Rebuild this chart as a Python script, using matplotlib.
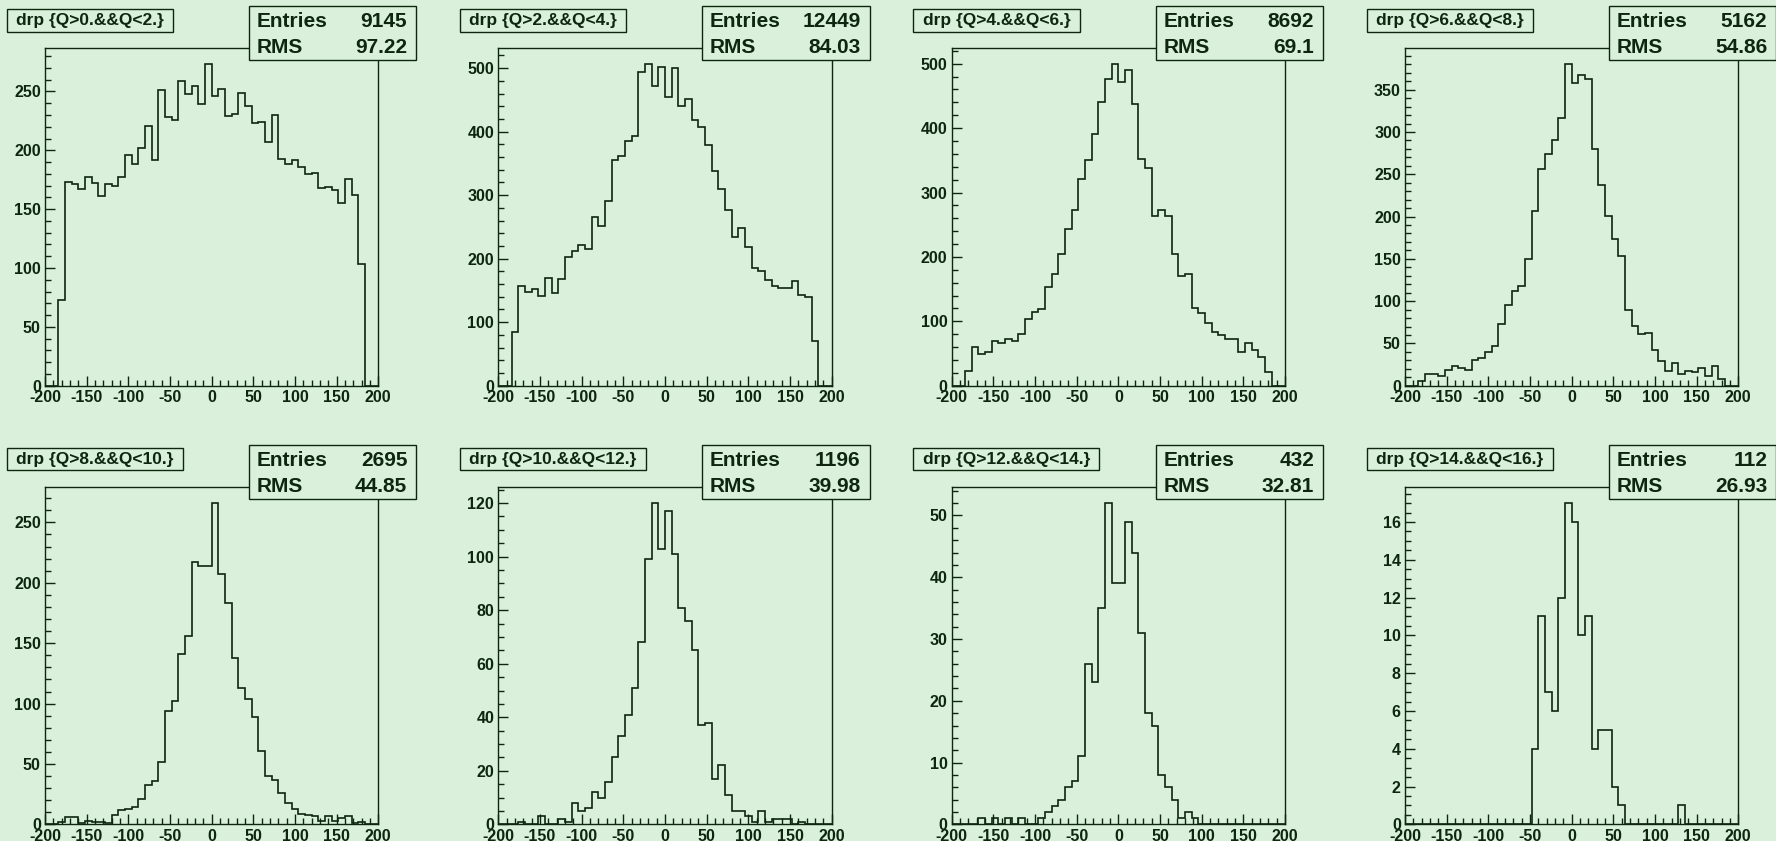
import numpy as np
import matplotlib
matplotlib.use("Agg")
import matplotlib.pyplot as plt
from matplotlib.patches import Rectangle
from matplotlib.ticker import MultipleLocator

plt.rcParams['font.family'] = ['Liberation Sans', 'DejaVu Sans']
plt.rcParams['font.weight'] = 'bold'
plt.rcParams['axes.unicode_minus'] = False

# ---------------- data ----------------
bin_edges = np.arange(-200, 201, 8)   # 50 bins of width 8

titles = ["drp {Q>0.&&Q<2.}", "drp {Q>2.&&Q<4.}", "drp {Q>4.&&Q<6.}", "drp {Q>6.&&Q<8.}",
          "drp {Q>8.&&Q<10.}", "drp {Q>10.&&Q<12.}", "drp {Q>12.&&Q<14.}", "drp {Q>14.&&Q<16.}"]
entries = ["9145", "12449", "8692", "5162", "2695", "1196", "432", "112"]
rms_values = ["97.22", "84.03", "69.1", "54.86", "44.85", "39.98", "32.81", "26.93"]

counts_q0_2 = [0, 0, 73, 173, 171, 167, 177, 172, 161, 171, 170, 177,
               196, 188, 202, 221, 192, 251, 228, 226, 259, 248,
               255, 239, 273, 246, 252, 229, 231, 249, 238, 223,
               224, 207, 230, 193, 188, 192, 186, 180, 181, 168,
               169, 166, 155, 176, 162, 103, 0, 0]
counts_q2_4 = [0, 0, 84, 157, 148, 152, 141, 170, 146, 168, 202, 212,
               221, 216, 266, 252, 291, 355, 361, 386, 393, 494,
               506, 472, 502, 455, 500, 440, 452, 419, 408, 379,
               338, 309, 277, 234, 249, 218, 185, 181, 167, 157,
               154, 154, 165, 143, 140, 70, 0, 0]
counts_q4_6 = [0, 0, 23, 60, 49, 53, 69, 67, 72, 69, 80, 103,
               115, 119, 153, 173, 204, 243, 273, 321, 351, 391,
               441, 476, 499, 472, 490, 438, 352, 338, 264, 273,
               264, 204, 171, 173, 120, 113, 97, 83, 78, 73,
               73, 53, 67, 55, 44, 22, 0, 0]
counts_q6_8 = [0, 0, 5, 14, 14, 11, 19, 23, 21, 18, 30, 33,
               40, 47, 73, 96, 112, 118, 150, 207, 256, 274,
               291, 317, 380, 358, 367, 363, 280, 237, 201, 174,
               153, 90, 71, 61, 62, 42, 29, 17, 27, 14,
               17, 16, 21, 12, 23, 8, 0, 0]
counts_q8_10 = [0, 0, 2, 6, 6, 1, 3, 2, 2, 1, 8, 12,
                13, 14, 21, 33, 36, 52, 94, 102, 141, 156,
                217, 214, 214, 266, 207, 183, 138, 113, 104, 89,
                61, 40, 37, 26, 18, 13, 9, 8, 7, 3,
                7, 3, 5, 7, 1, 2, 0, 0]
counts_q10_12 = [0, 0, 0, 1, 0, 0, 3, 0, 0, 2, 1, 8,
                 5, 6, 12, 10, 16, 25, 33, 41, 51, 68,
                 99, 120, 103, 117, 101, 81, 76, 65, 37, 38,
                 17, 22, 11, 5, 5, 3, 1, 5, 1, 2,
                 2, 2, 0, 1, 0, 0, 0, 0]
counts_q12_14 = [0, 0, 0, 0, 1, 0, 1, 0, 1, 0, 1, 0,
                 0, 1, 2, 3, 4, 6, 7, 11, 26, 23,
                 35, 52, 39, 39, 49, 44, 31, 18, 16, 8,
                 6, 4, 1, 2, 1, 0, 0, 0, 0, 0,
                 0, 0, 0, 0, 0, 0, 0, 0]
counts_q14_16 = [0, 0, 0, 0, 0, 0, 0, 0, 0, 0, 0, 0,
                 0, 0, 0, 0, 0, 0, 0, 4, 11, 7,
                 6, 12, 17, 16, 10, 11, 4, 5, 5, 2,
                 1, 0, 0, 0, 0, 0, 0, 0, 0, 1,
                 0, 0, 0, 0, 0, 0, 0, 0]

all_counts = [counts_q0_2, counts_q2_4, counts_q4_6, counts_q6_8,
              counts_q8_10, counts_q10_12, counts_q12_14, counts_q14_16]
y_major = [50, 100, 100, 50, 50, 20, 10, 2]
y_minor = [10, 20, 20, 10, 10, 5, 2, 0.5]

# ---------------- style / layout ----------------
W, H = 1776, 841
BG = '#daf0da'
FG = '#0d260d'

fig = plt.figure(figsize=(W / 100, H / 100), dpi=100, facecolor=BG)

col_left = [45, 498.3, 951.7, 1405]
row_top = [48.3, 487]
ax_w, ax_h = 333.3, 337.4


def fx(px):
    return px / W


def fy(py):
    return 1 - py / H


title_texts = []
for i in range(8):
    r, c = divmod(i, 4)
    left, top = col_left[c], row_top[r]
    ax = fig.add_axes([fx(left), fy(top + ax_h), ax_w / W, ax_h / H])
    ax.set_facecolor(BG)
    counts = np.array(all_counts[i], dtype=float)
    ax.stairs(counts, bin_edges, color=FG, lw=1.2, baseline=0)
    ax.set_xlim(-200, 200)
    ax.set_ylim(0, 1.05 * counts.max())
    ax.xaxis.set_major_locator(MultipleLocator(50))
    ax.xaxis.set_minor_locator(MultipleLocator(10))
    ax.yaxis.set_major_locator(MultipleLocator(y_major[i]))
    ax.yaxis.set_minor_locator(MultipleLocator(y_minor[i]))
    ax.tick_params(which='both', direction='in', colors=FG, width=1,
                   top=False, right=False)
    ax.tick_params(which='major', length=7.5, labelsize=11.5, pad=3)
    ax.tick_params(which='minor', length=4)
    for sp in ax.spines.values():
        sp.set_color(FG)
        sp.set_linewidth(1.0)

    # title text (box drawn after measuring)
    bl = left - 38.3
    bt = top - 39
    t = fig.text(fx(bl + 9.3), fy(bt + 15.7), titles[i], fontsize=12.5,
                 fontweight='bold', color=FG, ha='left', va='baseline', zorder=11)
    title_texts.append((t, bl, bt))

    # stats box
    right = left + ax_w
    sl, sr = right - 129.3, right + 38
    st, sb = top - 42.3, top + 11.7
    fig.patches.append(Rectangle((fx(sl), fy(sb)), (sr - sl) / W, (sb - st) / H,
                                 transform=fig.transFigure, facecolor=BG,
                                 edgecolor=FG, lw=1.0, zorder=10))
    fig.text(fx(sl + 7.7), fy(st + 21.3), "Entries", fontsize=15, fontweight='bold',
             color=FG, ha='left', va='baseline', zorder=11)
    fig.text(fx(sr - 9), fy(st + 21.3), entries[i], fontsize=15, fontweight='bold',
             color=FG, ha='right', va='baseline', zorder=11)
    fig.text(fx(sl + 7.7), fy(st + 47.3), "RMS", fontsize=15, fontweight='bold',
             color=FG, ha='left', va='baseline', zorder=11)
    fig.text(fx(sr - 9), fy(st + 47.3), rms_values[i], fontsize=15, fontweight='bold',
             color=FG, ha='right', va='baseline', zorder=11)

fig.canvas.draw()
renderer = fig.canvas.get_renderer()
for t, bl, bt in title_texts:
    bb = t.get_window_extent(renderer)
    bw = bb.width + 2 * 9.3
    bh = 22.4
    fig.patches.append(Rectangle((fx(bl), fy(bt + bh)), bw / W, bh / H,
                                 transform=fig.transFigure, facecolor=BG,
                                 edgecolor=FG, lw=1.0, zorder=10))

fig.savefig("out.png", dpi=100, facecolor=BG)
